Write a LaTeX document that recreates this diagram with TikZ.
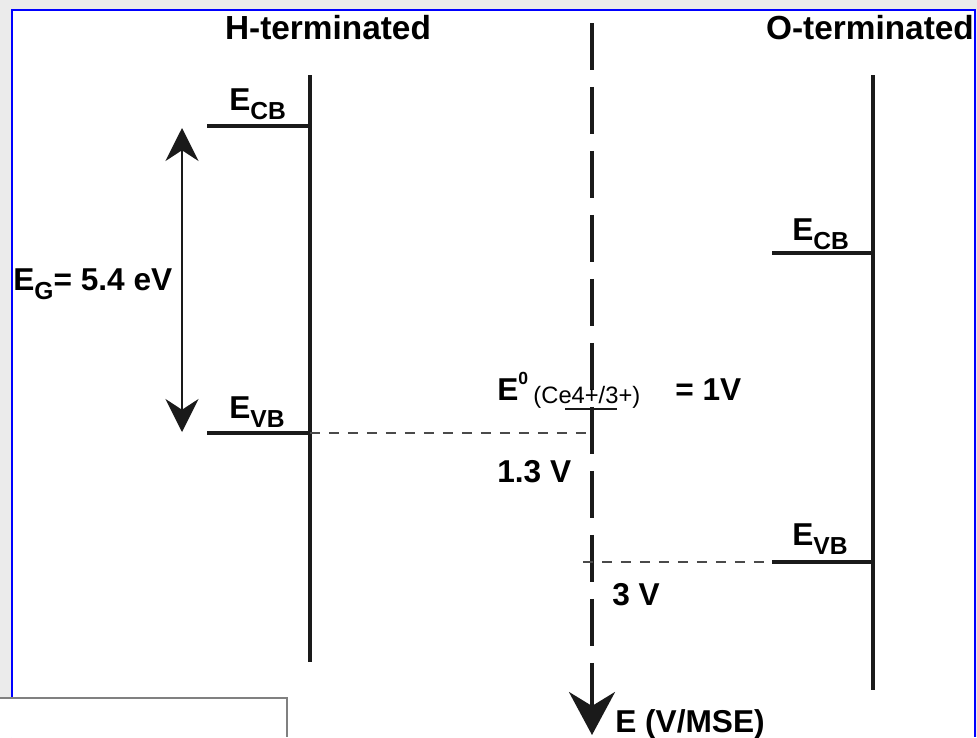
\documentclass[tikz,border=0pt]{standalone}
\usepackage{fontspec}
\setmainfont{Liberation Sans}
\usetikzlibrary{arrows.meta}
\definecolor{BGGray}{HTML}{EBEBEB}
\definecolor{FrameBlue}{HTML}{0000FF}
\definecolor{BoxGray}{HTML}{808080}
\definecolor{LevelInk}{HTML}{1A1A1A}
\definecolor{DashInk}{HTML}{4A4A4A}
\newcommand{\titlefont}{\fontsize{19}{23}\selectfont\bfseries}
\newcommand{\lvlfont}{\fontsize{18}{22}\selectfont\bfseries}
\newcommand{\subfont}{\fontsize{14}{16}\selectfont}
\newcommand{\Elvl}[1]{E\raisebox{-5.5pt}{\subfont #1}}
\tikzset{
  band/.style={LevelInk,line width=2.8pt},
  level/.style={LevelInk,line width=2.2pt},
  guide/.style={DashInk,line width=1.1pt,dash pattern=on 0.2cm off 0.18cm},
  axisline/.style={LevelInk,line width=2.2pt},
  lbl/.style={anchor=base west,inner sep=0pt,font=\lvlfont}
}
\begin{document}
\begin{tikzpicture}[x=0.02cm,y=-0.02cm]
\path[use as bounding box] (0,0) rectangle (977,737);
\fill[BGGray] (0,0) rectangle (977,737);
\fill[white] (12,10) rectangle (975,737);
\draw[FrameBlue,line width=1.2pt] (12,737) -- (12,10) -- (975,10) -- (975,737);
\fill[white] (0,698) rectangle (287,737);
\draw[BoxGray,line width=1.2pt] (0,698) -- (287,698) -- (287,737);
\node[font=\titlefont] (htitle) at (328,28) {H-terminated};
\node[font=\titlefont] (otitle) at (870,28) {O-terminated};
\coordinate (htop) at (310,75);
\coordinate (hbot) at (310,662);
\coordinate (otop) at (873,75);
\coordinate (obot) at (873,690);
\draw[band] (htop) -- (hbot);
\draw[band] (otop) -- (obot);
\coordinate (hcbl) at (207,126);
\coordinate (hcbr) at (310,126);
\coordinate (hvbl) at (207,433);
\coordinate (hvbr) at (310,433);
\coordinate (ocbl) at (772,253);
\coordinate (ocbr) at (873,253);
\coordinate (ovbl) at (772,562);
\coordinate (ovbr) at (873,562);
\draw[level] (hcbl) -- (hcbr);
\draw[level] (hvbl) -- (hvbr);
\draw[level] (ocbl) -- (ocbr);
\draw[level] (ovbl) -- (ovbr);
\node[lbl] (hcb) at (229,110) {\Elvl{CB}};
\node[lbl] (hvb) at (229,418) {\Elvl{VB}};
\node[lbl] (ocb) at (792,240) {\Elvl{CB}};
\node[lbl] (ovb) at (792,545) {\Elvl{VB}};
\coordinate (gaptop) at (182,128);
\coordinate (gapbot) at (182,432);
\draw[LevelInk,line width=1.1pt,{Stealth[length=0.66cm,width=0.66cm]}-{Stealth[length=0.66cm,width=0.66cm]}] (gaptop) -- (gapbot);
\node[lbl] (gap) at (13,290) {\Elvl{G}= 5.4 eV};
\coordinate (axtop) at (592,23);
\coordinate (axmid) at (592,663);
\coordinate (axtip) at (592,735);
\draw[axisline,dash pattern=on 0.94cm off 0.34cm] (axtop) -- (axmid);
\draw[axisline,-{Stealth[length=0.86cm,width=0.92cm]}] (axmid) -- (axtip);
\node[lbl] (axis) at (615,732) {E (V/MSE)};
\coordinate (redl) at (565,409);
\coordinate (redr) at (617,409);
\draw[LevelInk,line width=1.1pt] (redl) -- (redr);
\node[lbl] (redox) at (497,400) {E\raisebox{9pt}{\fontsize{10}{10}\selectfont 0}\,\raisebox{-2pt}{\fontsize{13.5}{15}\selectfont\mdseries (Ce4+/3+)}};
\node[lbl] (redval) at (675,400) {= 1V};
\coordinate (axhvb) at (592,433);
\coordinate (axovb) at (583,562);
\draw[guide] (hvbr) -- (axhvb);
\draw[guide] (axovb) -- (ovbl);
\node[lbl] (hshift) at (497,482) {1.3 V};
\node[lbl] (oshift) at (612,605) {3 V};
\end{tikzpicture}
\end{document}
